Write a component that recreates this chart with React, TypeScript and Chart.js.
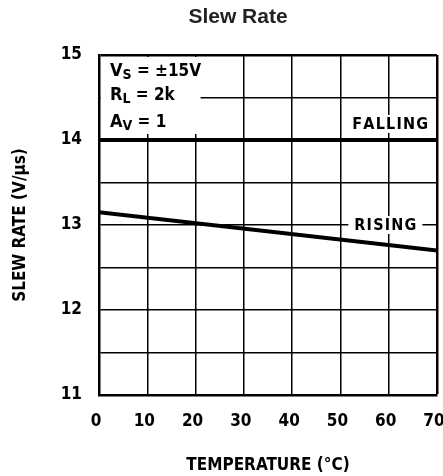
import React, { useEffect, useRef } from 'react';
import { Chart, registerables } from 'chart.js';

Chart.register(...registerables);

// ---- data ----
const temperatures = [0, 70];
const risingSlew = [13.15, 12.7];
const fallingSlew = [14.0, 14.0];
const xTickStep = 10;
const yTickStep = 0.5;
const yLabelValues = [11, 12, 13, 14, 15];
const condMain = ['V', 'R', 'A'];
const condSub = ['S', 'L', 'V'];
const condRest = [' = \u00b115V', ' = 2k', ' = 1'];
const seriesLabels = ['FALLING', 'RISING'];
const chartTitle = 'Slew Rate';
const xTitle = 'TEMPERATURE (\u00b0C)';
const yTitle = 'SLEW RATE (V/\u03bcs)';

const COND_FAMILY = '"DejaVu Sans Condensed", "Liberation Sans Narrow", sans-serif';

export default function App() {
  const ref = useRef<HTMLCanvasElement>(null);

  useEffect(() => {
    const canvas = ref.current;
    if (!canvas) return;

    function measureSpaced(ctx: CanvasRenderingContext2D, s: string, sp: number) {
      let w = 0;
      for (const ch of s) w += ctx.measureText(ch).width + sp;
      return w - sp;
    }
    function drawSpaced(ctx: CanvasRenderingContext2D, s: string, cx: number, cy: number, sp: number) {
      const w = measureSpaced(ctx, s, sp);
      let px = cx - w / 2;
      ctx.textAlign = 'left';
      for (const ch of s) {
        ctx.fillText(ch, px, cy);
        px += ctx.measureText(ch).width + sp;
      }
    }

    const labelAnchors = (x: any, y: any) => [
      { x: x.getPixelForValue(60.3), y: y.getPixelForValue(14.19) },
      { x: x.getPixelForValue(59.3), y: y.getPixelForValue(13.0) },
    ];

    const annot = {
      id: 'annot',
      beforeDatasetsDraw(chart: any) {
        const { ctx, chartArea, scales } = chart;
        const x = scales.x, y = scales.y;
        ctx.save();
        ctx.fillStyle = '#fff';
        // conditions box
        const bx0 = chartArea.left + 2;
        const by0 = chartArea.top + 2;
        const bx1 = x.getPixelForValue(20) + 5;
        const by1 = y.getPixelForValue(14) - 6;
        ctx.fillRect(bx0, by0, bx1 - bx0, by1 - by0);
        // series label boxes
        ctx.font = 'bold 16px ' + COND_FAMILY;
        labelAnchors(x, y).forEach((p, i) => {
          const w = measureSpaced(ctx, seriesLabels[i], 1.2);
          ctx.fillRect(p.x - w / 2 - 6, p.y - 9, w + 12, 18);
        });
        ctx.restore();
      },
      afterDatasetsDraw(chart: any) {
        const { ctx, scales } = chart;
        const x = scales.x, y = scales.y;
        ctx.save();
        ctx.fillStyle = '#000';
        ctx.textBaseline = 'alphabetic';
        // conditions
        const baselines = [76, 100, 127];
        for (let i = 0; i < condMain.length; i++) {
          let cx = 110;
          const by = baselines[i];
          ctx.font = 'bold 18px ' + COND_FAMILY;
          ctx.textAlign = 'left';
          ctx.fillText(condMain[i], cx, by);
          cx += ctx.measureText(condMain[i]).width;
          ctx.font = 'bold 14px ' + COND_FAMILY;
          ctx.fillText(condSub[i], cx, by + 3);
          cx += ctx.measureText(condSub[i]).width;
          ctx.font = 'bold 17px ' + COND_FAMILY;
          ctx.fillText(condRest[i], cx, by);
        }
        // series labels
        ctx.font = 'bold 16px ' + COND_FAMILY;
        ctx.textBaseline = 'middle';
        labelAnchors(x, y).forEach((p, i) => {
          drawSpaced(ctx, seriesLabels[i], p.x, p.y + 1, 1.2);
        });
        // chart title
        ctx.font = 'bold 21px "Liberation Sans", Arial, sans-serif';
        ctx.textAlign = 'center';
        ctx.textBaseline = 'alphabetic';
        ctx.fillStyle = '#222';
        ctx.fillText(chartTitle, 238, 23);
        ctx.restore();
      },
    };

    const tickFont = { family: COND_FAMILY, size: 17, weight: 'bold' as const };

    const chart = new Chart(canvas, {
      type: 'line',
      data: {
        datasets: [
          {
            label: 'Falling',
            data: temperatures.map((t, i) => ({ x: t, y: fallingSlew[i] })),
            borderColor: '#000',
            borderWidth: 4,
            pointRadius: 0,
            fill: false,
          },
          {
            label: 'Rising',
            data: temperatures.map((t, i) => ({ x: t, y: risingSlew[i] })),
            borderColor: '#000',
            borderWidth: 4,
            pointRadius: 0,
            fill: false,
          },
        ],
      },
      options: {
        animation: false,
        responsive: false,
        devicePixelRatio: 1,
        layout: { padding: { top: 55, right: 6, left: 0, bottom: 0 } },
        plugins: { legend: { display: false }, tooltip: { enabled: false }, title: { display: false } },
        scales: {
          x: {
            type: 'linear',
            min: 0,
            max: 70,
            ticks: { stepSize: xTickStep, color: '#000', font: tickFont, padding: 16, maxRotation: 0, labelOffset: -3 },
            grid: {
              color: '#000',
              lineWidth: (c: any) => (c.tick && c.tick.value === 70 ? 2.5 : 1.5),
              drawTicks: false,
            },
            border: { display: true, color: '#000', width: 2.5 },
            title: {
              display: true,
              text: xTitle,
              color: '#000',
              font: { family: COND_FAMILY, size: 17, weight: 'bold' },
              padding: { top: 18, bottom: 0 },
            },
            afterFit: (s: any) => {
              s.height = 81;
              s.paddingLeft = 0;
              s.paddingRight = 0;
            },
          },
          y: {
            type: 'linear',
            min: 11,
            max: 15,
            ticks: {
              stepSize: yTickStep,
              autoSkip: false,
              color: '#000',
              font: tickFont,
              padding: 17,
              callback: (v: any) => (yLabelValues.includes(Number(v)) ? String(v) : ''),
            },
            grid: {
              color: '#000',
              lineWidth: (c: any) => (c.tick && c.tick.value === 15 ? 2.5 : 1.5),
              drawTicks: false,
            },
            border: { display: true, color: '#000', width: 2.5 },
            title: {
              display: true,
              text: yTitle,
              color: '#000',
              font: { family: COND_FAMILY, size: 17, weight: 'bold' },
              padding: { top: 10, bottom: 0 },
            },
            afterFit: (s: any) => {
              s.width = 99;
              s.paddingTop = 0;
              s.paddingBottom = 0;
            },
          },
        },
      },
      plugins: [annot],
    });

    return () => chart.destroy();
  }, []);

  return (
    <div style={{ position: 'absolute', left: 0, top: 0, width: 443, height: 476, background: '#fff' }}>
      <canvas ref={ref} width={443} height={476} style={{ display: 'block' }} />
    </div>
  );
}
